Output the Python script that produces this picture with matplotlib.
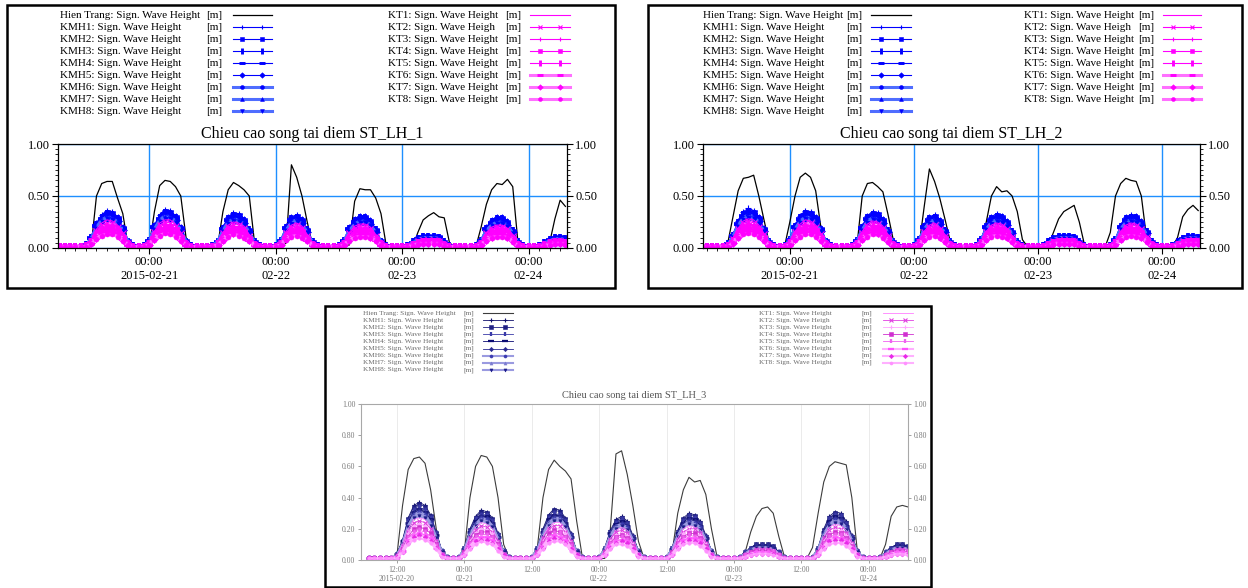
import matplotlib

matplotlib.use("Agg")
import matplotlib.pyplot as plt
import matplotlib.dates as mdates
from matplotlib.patches import Rectangle
from matplotlib.ticker import FormatStrFormatter, MultipleLocator
import numpy as np
import pandas as pd

plt.rcParams["font.family"] = ["Liberation Serif", "DejaVu Serif"]

W, H = 1248, 588

# hourly model output, 2015-02-20 07:00 .. 2015-02-24 07:00, wave height in cm
TIMES = pd.date_range("2015-02-20 07:00", periods=97, freq="h")

P1_HT_CM = [1,1,1,1,1,1, 2,50,62,64,64,48,33,2, 1,1,1,1, 35,60,65,64,59,50,10,1, 1,1,1,1, 2,35,56,63,60,56,50,5, 1,1,1,1,1, 5,80,68,50,25,3, 1,1,1,1,1,1, 3,45,57,56,56,48,33,2, 1,1,1,1,1, 15,27,31,34,30,29,5, 1,1,1,1,1, 20,42,56,62,61,66,59,5, 1,1,1,1,1, 5,28,46,40]

P1_KMH_CM = [
    [1,1,1,1, 1,3,11,24,32,36,35,30,20,7,2, 1, 2,8,22,32,37,36,31,20,7,2, 1,1,1, 2,7,20,30,34,33,28,18,6,2, 1,1, 2,8,21,30,32,28,18,6,2, 1,1,1, 2,8,20,28,31,31,27,18,7,2, 1,1,1, 2,6,10,12,12,12,11,6,2, 1,1,1,1, 2,8,20,27,30,30,26,17,6,2, 1,1, 2,5,9,11,11,10],
    [1,1,1,1, 1,3,11,23,31,35,34,29,19,7,2, 1, 2,8,21,31,36,35,30,19,7,2, 1,1,1, 2,7,19,29,33,32,27,17,6,2, 1,1, 2,8,20,29,31,27,17,6,2, 1,1,1, 2,8,19,27,30,30,26,17,7,2, 1,1,1, 2,6,10,12,12,12,11,6,2, 1,1,1,1, 2,8,19,26,29,29,25,16,6,2, 1,1, 2,5,9,11,11,10],
    [1,1,1,1, 1,3,10,22,29,33,32,28,18,6,2, 1, 2,7,20,29,34,33,29,18,6,2, 1,1,1, 2,6,18,28,31,30,26,17,6,2, 1,1, 2,7,19,28,29,26,17,6,2, 1,1,1, 2,7,18,26,29,29,25,17,6,2, 1,1,1, 2,6,9,11,11,11,10,6,2, 1,1,1,1, 2,7,18,25,28,28,24,16,6,2, 1,1, 2,5,8,10,10,9],
    [1,1,1,1, 1,3,10,21,28,32,31,27,18,6,2, 1, 2,7,20,28,33,32,28,18,6,2, 1,1,1, 2,6,18,27,30,29,25,16,5,2, 1,1, 2,7,19,27,28,25,16,5,2, 1,1,1, 2,7,18,25,28,28,24,16,6,2, 1,1,1, 2,5,9,11,11,11,10,5,2, 1,1,1,1, 2,7,18,24,27,27,23,15,5,2, 1,1, 2,4,8,10,10,9],
    [1,1,1,1, 1,3,9,21,28,31,30,26,17,6,2, 1, 2,7,19,28,32,31,27,17,6,2, 1,1,1, 2,6,17,26,29,28,24,15,5,2, 1,1, 2,7,18,26,28,24,15,5,2, 1,1,1, 2,7,17,24,27,27,23,15,6,2, 1,1,1, 2,5,9,10,10,10,9,5,2, 1,1,1,1, 2,7,17,23,26,26,22,15,5,2, 1,1, 2,4,8,9,9,9],
    [1,1,1,1, 1,2,9,20,27,30,29,25,17,6,2, 1, 2,7,18,27,31,30,26,17,6,2, 1,1,1, 2,6,17,25,28,27,23,15,5,2, 1,1, 2,7,17,25,27,23,15,5,2, 1,1,1, 2,7,17,23,26,26,22,15,6,2, 1,1,1, 2,5,8,10,10,10,9,5,2, 1,1,1,1, 2,7,17,22,25,25,22,14,5,2, 1,1, 2,4,7,9,9,8],
    [1,1,1,1, 1,2,9,19,26,29,28,24,16,6,2, 1, 2,6,18,26,30,29,25,16,6,2, 1,1,1, 2,6,16,24,27,26,22,14,5,2, 1,1, 2,6,17,24,26,22,14,5,2, 1,1,1, 2,6,16,22,25,25,22,14,6,2, 1,1,1, 2,5,8,10,10,10,9,5,2, 1,1,1,1, 2,6,16,22,24,24,21,14,5,2, 1,1, 2,4,7,9,9,8],
    [1,1,1,1, 1,2,8,18,25,28,27,23,15,5,2, 1, 2,6,17,25,28,28,24,15,5,2, 1,1,1, 2,5,15,23,26,25,22,14,5,2, 1,1, 2,6,16,23,25,22,14,5,2, 1,1,1, 2,6,15,22,24,24,21,14,5,2, 1,1,1, 2,5,8,9,9,9,8,5,2, 1,1,1,1, 2,6,15,21,23,23,20,13,5,2, 1,1, 2,4,7,8,8,8],
]

P1_KT_CM = [
    [1,1,1,1, 1,2,8,18,24,27,26,22,15,5,1, 1, 1,6,16,24,27,27,23,15,5,1, 1,1,1, 1,5,15,22,25,24,21,13,4,1, 1,1, 1,6,16,22,24,21,13,4,1, 1,1,1, 1,6,15,21,23,23,20,13,5,1, 1,1,1, 1,4,7,9,9,9,8,4,1, 1,1,1,1, 1,6,15,20,22,22,19,13,4,1, 1,1, 1,4,7,8,8,7],
    [1,1,1,1, 1,2,7,16,22,24,24,20,14,5,1, 1, 1,5,15,22,25,24,21,14,5,1, 1,1,1, 1,5,14,20,23,22,19,12,4,1, 1,1, 1,5,14,20,22,19,12,4,1, 1,1,1, 1,5,14,19,21,21,18,12,5,1, 1,1,1, 1,4,7,8,8,8,7,4,1, 1,1,1,1, 1,5,14,18,20,20,18,12,4,1, 1,1, 1,3,6,7,7,7],
    [1,1,1,1, 1,2,7,15,20,22,22,19,12,4,1, 1, 1,5,14,20,23,22,19,12,4,1, 1,1,1, 1,4,12,19,21,20,17,11,4,1, 1,1, 1,5,13,19,20,17,11,4,1, 1,1,1, 1,5,12,17,19,19,17,11,4,1, 1,1,1, 1,4,6,7,7,7,7,4,1, 1,1,1,1, 1,5,12,17,19,19,16,11,4,1, 1,1, 1,3,6,7,7,6],
    [1,1,1,1, 1,2,6,14,18,21,20,17,11,4,1, 1, 1,5,13,18,21,21,18,11,4,1, 1,1,1, 1,4,11,17,19,19,16,10,3,1, 1,1, 1,5,12,17,18,16,10,3,1, 1,1,1, 1,5,11,16,18,18,15,10,4,1, 1,1,1, 1,3,6,7,7,7,6,3,1, 1,1,1,1, 1,5,11,15,17,17,15,10,3,1, 1,1, 1,3,5,6,6,6],
    [1,1,1,1, 1,2,6,12,17,19,18,16,10,4,1, 1, 1,4,11,17,19,19,16,10,4,1, 1,1,1, 1,4,10,16,18,17,15,9,3,1, 1,1, 1,4,11,16,17,15,9,3,1, 1,1,1, 1,4,10,15,16,16,14,9,4,1, 1,1,1, 1,3,5,6,6,6,6,3,1, 1,1,1,1, 1,4,10,14,16,16,14,9,3,1, 1,1, 1,3,5,6,6,5],
    [1,1,1,1, 1,1,5,11,15,17,16,14,9,3,1, 1, 1,4,10,15,17,17,15,9,3,1, 1,1,1, 1,3,9,14,16,16,13,8,3,1, 1,1, 1,4,10,14,15,13,8,3,1, 1,1,1, 1,4,9,13,15,15,13,8,3,1, 1,1,1, 1,3,5,6,6,6,5,3,1, 1,1,1,1, 1,4,9,13,14,14,12,8,3,1, 1,1, 1,2,4,5,5,5],
    [1,1,1,1, 1,1,5,10,13,15,15,13,8,3,1, 1, 1,3,9,13,16,15,13,8,3,1, 1,1,1, 1,3,8,13,14,14,12,8,3,1, 1,1, 1,3,9,13,13,12,8,3,1, 1,1,1, 1,3,8,12,13,13,11,8,3,1, 1,1,1, 1,3,4,5,5,5,5,3,1, 1,1,1,1, 1,3,8,11,13,13,11,7,3,1, 1,1, 1,2,4,5,5,4],
    [1,1,1,1, 1,1,4,9,12,13,13,11,7,3,1, 1, 1,3,8,12,14,13,11,7,3,1, 1,1,1, 1,3,7,11,13,12,10,7,2,1, 1,1, 1,3,8,11,12,10,7,2,1, 1,1,1, 1,3,7,10,11,11,10,7,3,1, 1,1,1, 1,2,4,4,4,4,4,2,1, 1,1,1,1, 1,3,7,10,11,11,10,6,2,1, 1,1, 1,2,3,4,4,4],
]

P2_HT_CM = [1,1,1,1,1, 5,30,55,67,68,70,50,27,5, 1,1, 2,25,50,68,72,68,55,20,2, 1,1,1,1,1, 3,50,62,63,59,54,32,8, 1,1,1,1, 2,40,76,64,48,28,7, 1,1,1,1,1, 2,25,50,59,54,55,50,35,8, 1,1,1,1, 2,15,28,35,38,41,25,3, 1,1,1,1, 15,50,62,67,65,64,50,10, 1,1,1,1,1, 10,30,37,41,36]

P2_KMH_CM = [
    [1,1,1,1, 1,4,13,26,35,38,36,30,19,6,2, 1, 2,9,22,31,36,35,30,19,7,2, 1,1,1, 2,8,21,31,35,34,28,17,6,2, 1,1, 2,9,22,30,32,27,17,6,2, 1,1,1, 2,9,22,30,33,31,26,16,6,2, 1,1,1, 2,6,10,12,12,12,11,6,2, 1,1,1,1, 2,9,22,30,32,31,26,16,6,2, 1,1, 2,6,10,12,12,11],
    [1,1,1,1, 1,4,12,25,34,36,35,29,18,6,2, 1, 2,9,21,30,35,34,29,18,7,2, 1,1,1, 2,8,20,30,34,33,27,16,6,2, 1,1, 2,9,21,29,31,26,16,6,2, 1,1,1, 2,9,21,29,32,30,25,15,6,2, 1,1,1, 2,6,10,12,12,12,11,6,2, 1,1,1,1, 2,9,21,29,31,30,25,15,6,2, 1,1, 2,6,10,12,12,11],
    [1,1,1,1, 1,4,12,24,32,35,33,28,17,6,2, 1, 2,8,20,29,33,32,28,17,6,2, 1,1,1, 2,7,19,29,32,31,26,16,6,2, 1,1, 2,8,20,28,29,25,16,6,2, 1,1,1, 2,8,20,28,30,29,24,15,6,2, 1,1,1, 2,6,9,11,11,11,10,6,2, 1,1,1,1, 2,8,20,28,29,29,24,15,6,2, 1,1, 2,6,9,11,11,10],
    [1,1,1,1, 1,4,12,23,31,34,32,27,17,5,2, 1, 2,8,20,28,32,31,27,17,6,2, 1,1,1, 2,7,19,28,31,30,25,15,5,2, 1,1, 2,8,20,27,28,24,15,5,2, 1,1,1, 2,8,20,27,29,28,23,14,5,2, 1,1,1, 2,5,9,11,11,11,10,5,2, 1,1,1,1, 2,8,20,27,28,28,23,14,5,2, 1,1, 2,5,9,11,11,10],
    [1,1,1,1, 1,3,11,22,30,33,31,26,16,5,2, 1, 2,8,19,27,31,30,26,16,6,2, 1,1,1, 2,7,18,27,30,29,24,15,5,2, 1,1, 2,8,19,26,28,23,15,5,2, 1,1,1, 2,8,19,26,28,27,22,14,5,2, 1,1,1, 2,5,9,10,10,10,9,5,2, 1,1,1,1, 2,8,19,26,28,27,22,14,5,2, 1,1, 2,5,9,10,10,9],
    [1,1,1,1, 1,3,11,22,29,32,30,25,16,5,2, 1, 2,7,18,26,30,29,25,16,6,2, 1,1,1, 2,7,17,26,29,28,23,14,5,2, 1,1, 2,7,18,25,27,22,14,5,2, 1,1,1, 2,7,18,25,27,26,22,13,5,2, 1,1,1, 2,5,8,10,10,10,9,5,2, 1,1,1,1, 2,7,18,25,27,26,22,13,5,2, 1,1, 2,5,8,10,10,9],
    [1,1,1,1, 1,3,10,21,28,30,29,24,15,5,2, 1, 2,7,18,25,29,28,24,15,6,2, 1,1,1, 2,6,17,25,28,27,22,14,5,2, 1,1, 2,7,18,24,26,22,14,5,2, 1,1,1, 2,7,18,24,26,25,21,13,5,2, 1,1,1, 2,5,8,10,10,10,9,5,2, 1,1,1,1, 2,7,18,24,26,25,21,13,5,2, 1,1, 2,5,8,10,10,9],
    [1,1,1,1, 1,3,10,20,27,29,28,23,15,5,2, 1, 2,7,17,24,28,27,23,15,5,2, 1,1,1, 2,6,16,24,27,26,22,13,5,2, 1,1, 2,7,17,23,25,21,13,5,2, 1,1,1, 2,7,17,23,25,24,20,12,5,2, 1,1,1, 2,5,8,9,9,9,8,5,2, 1,1,1,1, 2,7,17,23,25,24,20,12,5,2, 1,1, 2,5,8,9,9,8],
]

P2_KT_CM = [
    [1,1,1,1, 1,3,10,19,26,28,27,22,14,4,1, 1, 1,7,16,23,27,26,22,14,5,1, 1,1,1, 1,6,16,23,26,25,21,13,4,1, 1,1, 1,7,16,22,24,20,13,4,1, 1,1,1, 1,7,16,22,24,23,19,12,4,1, 1,1,1, 1,4,7,9,9,9,8,4,1, 1,1,1,1, 1,7,16,22,24,23,19,12,4,1, 1,1, 1,4,7,9,9,8],
    [1,1,1,1, 1,3,9,18,24,26,24,20,13,4,1, 1, 1,6,15,21,24,24,20,13,5,1, 1,1,1, 1,5,14,21,24,23,19,12,4,1, 1,1, 1,6,15,20,22,18,12,4,1, 1,1,1, 1,6,15,20,22,21,18,11,4,1, 1,1,1, 1,4,7,8,8,8,7,4,1, 1,1,1,1, 1,6,15,20,22,21,18,11,4,1, 1,1, 1,4,7,8,8,7],
    [1,1,1,1, 1,2,8,16,22,24,22,19,12,4,1, 1, 1,6,14,19,22,22,19,12,4,1, 1,1,1, 1,5,13,19,22,21,17,11,4,1, 1,1, 1,6,14,19,20,17,11,4,1, 1,1,1, 1,6,14,19,20,19,16,10,4,1, 1,1,1, 1,4,6,7,7,7,7,4,1, 1,1,1,1, 1,6,14,19,20,19,16,10,4,1, 1,1, 1,4,6,7,7,7],
    [1,1,1,1, 1,2,7,15,20,22,21,17,11,3,1, 1, 1,5,13,18,21,20,17,11,4,1, 1,1,1, 1,5,12,18,20,19,16,10,3,1, 1,1, 1,5,13,17,18,15,10,3,1, 1,1,1, 1,5,13,17,19,18,15,9,3,1, 1,1,1, 1,3,6,7,7,7,6,3,1, 1,1,1,1, 1,5,13,17,18,18,15,9,3,1, 1,1, 1,3,6,7,7,6],
    [1,1,1,1, 1,2,7,14,18,20,19,16,10,3,1, 1, 1,5,11,16,19,18,16,10,4,1, 1,1,1, 1,4,11,16,18,18,15,9,3,1, 1,1, 1,5,11,16,17,14,9,3,1, 1,1,1, 1,5,11,16,17,16,14,8,3,1, 1,1,1, 1,3,5,6,6,6,6,3,1, 1,1,1,1, 1,5,11,16,17,16,14,8,3,1, 1,1, 1,3,5,6,6,6],
    [1,1,1,1, 1,2,6,12,16,18,17,14,9,3,1, 1, 1,4,10,15,17,16,14,9,3,1, 1,1,1, 1,4,10,15,16,16,13,8,3,1, 1,1, 1,4,10,14,15,13,8,3,1, 1,1,1, 1,4,10,14,16,15,12,8,3,1, 1,1,1, 1,3,5,6,6,6,5,3,1, 1,1,1,1, 1,4,10,14,15,15,12,8,3,1, 1,1, 1,3,5,6,6,5],
    [1,1,1,1, 1,2,5,11,15,16,15,13,8,3,1, 1, 1,4,9,13,15,15,13,8,3,1, 1,1,1, 1,3,9,13,15,14,12,7,3,1, 1,1, 1,4,9,13,13,11,7,3,1, 1,1,1, 1,4,9,13,14,13,11,7,3,1, 1,1,1, 1,3,4,5,5,5,5,3,1, 1,1,1,1, 1,4,9,13,13,13,11,7,3,1, 1,1, 1,3,4,5,5,5],
    [1,1,1,1, 1,1,5,10,13,14,13,11,7,2,1, 1, 1,3,8,11,13,13,11,7,3,1, 1,1,1, 1,3,8,11,13,13,10,6,2,1, 1,1, 1,3,8,11,12,10,6,2,1, 1,1,1, 1,3,8,11,12,11,10,6,2,1, 1,1,1, 1,2,4,4,4,4,4,2,1, 1,1,1,1, 1,3,8,11,12,11,10,6,2,1, 1,1, 1,2,4,4,4,4],
]

P3_HT_CM = [1,1,1,1,1, 3,35,58,65,66,62,45,20,2, 1,1,1, 5,40,60,67,66,60,40,10,1, 1,1,1,1, 8,40,58,64,60,57,52,25,2, 1,1,1,1, 20,68,70,55,35,12, 1,1,1,1,1, 5,30,45,53,50,51,42,20,2, 1,1,1,1, 5,18,28,33,34,30,15,2, 1,1,1,1, 8,30,50,60,63,62,61,40,5, 1,1,1,1, 10,28,34,35,34]

P3_KMH_CM = [
    [1,1,1,1, 1,4,13,27,35,37,35,29,18,6,2, 1, 2,8,20,28,32,31,27,17,6,2, 1,1,1, 2,8,20,29,33,32,27,17,6,2, 1,1, 2,8,19,26,28,25,16,6,2, 1,1,1, 2,8,19,27,30,29,25,16,6,2, 1,1,1, 2,5,8,10,10,10,9,5,2, 1,1,1,1, 2,8,20,28,31,30,25,16,6,2, 1,1, 2,5,8,10,10,9],
    [1,1,1,1, 1,4,12,26,34,36,34,28,17,6,2, 1, 2,8,19,27,31,30,26,16,6,2, 1,1,1, 2,8,19,28,32,31,26,16,6,2, 1,1, 2,8,18,25,27,24,15,6,2, 1,1,1, 2,8,18,26,29,28,24,15,6,2, 1,1,1, 2,5,8,10,10,10,9,5,2, 1,1,1,1, 2,8,19,27,30,29,24,15,6,2, 1,1, 2,5,8,10,10,9],
    [1,1,1,1, 1,4,12,25,32,34,32,27,17,6,2, 1, 2,7,18,26,29,29,25,16,6,2, 1,1,1, 2,7,18,27,30,29,25,16,6,2, 1,1, 2,7,17,24,26,23,15,6,2, 1,1,1, 2,7,17,25,28,27,23,15,6,2, 1,1,1, 2,5,7,9,9,9,8,5,2, 1,1,1,1, 2,7,18,26,29,28,23,15,6,2, 1,1, 2,5,7,9,9,8],
    [1,1,1,1, 1,4,12,24,31,33,31,26,16,5,2, 1, 2,7,18,25,28,28,24,15,5,2, 1,1,1, 2,7,18,26,29,28,24,15,5,2, 1,1, 2,7,17,23,25,22,14,5,2, 1,1,1, 2,7,17,24,27,26,22,14,5,2, 1,1,1, 2,4,7,9,9,9,8,4,2, 1,1,1,1, 2,7,18,25,28,27,22,14,5,2, 1,1, 2,4,7,9,9,8],
    [1,1,1,1, 1,3,11,23,30,32,30,25,15,5,2, 1, 2,7,17,24,28,27,23,15,5,2, 1,1,1, 2,7,17,25,28,28,23,15,5,2, 1,1, 2,7,16,22,24,22,14,5,2, 1,1,1, 2,7,16,23,26,25,22,14,5,2, 1,1,1, 2,4,7,9,9,9,8,4,2, 1,1,1,1, 2,7,17,24,27,26,22,14,5,2, 1,1, 2,4,7,9,9,8],
    [1,1,1,1, 1,3,11,22,29,31,29,24,15,5,2, 1, 2,7,17,23,27,26,22,14,5,2, 1,1,1, 2,7,17,24,27,27,22,14,5,2, 1,1, 2,7,16,22,23,21,13,5,2, 1,1,1, 2,7,16,22,25,24,21,13,5,2, 1,1,1, 2,4,7,8,8,8,7,4,2, 1,1,1,1, 2,7,17,23,26,25,21,13,5,2, 1,1, 2,4,7,8,8,7],
    [1,1,1,1, 1,3,10,22,28,30,28,23,14,5,2, 1, 2,6,16,22,26,25,22,14,5,2, 1,1,1, 2,6,16,23,26,26,22,14,5,2, 1,1, 2,6,15,21,22,20,13,5,2, 1,1,1, 2,6,15,22,24,23,20,13,5,2, 1,1,1, 2,4,6,8,8,8,7,4,2, 1,1,1,1, 2,6,16,22,25,24,20,13,5,2, 1,1, 2,4,6,8,8,7],
    [1,1,1,1, 1,3,10,21,27,28,27,22,14,5,2, 1, 2,6,15,22,25,24,21,13,5,2, 1,1,1, 2,6,15,22,25,25,21,13,5,2, 1,1, 2,6,15,20,22,19,12,5,2, 1,1,1, 2,6,15,21,23,22,19,12,5,2, 1,1,1, 2,4,6,8,8,8,7,4,2, 1,1,1,1, 2,6,15,22,24,23,19,12,5,2, 1,1, 2,4,6,8,8,7],
]

P3_KT_CM = [
    [1,1,1,1, 1,3,10,20,26,27,26,21,13,4,1, 1, 1,6,15,21,24,23,20,13,4,1, 1,1,1, 1,6,15,21,24,24,20,13,4,1, 1,1, 1,6,14,19,21,19,12,4,1, 1,1,1, 1,6,14,20,22,21,19,12,4,1, 1,1,1, 1,4,6,7,7,7,7,4,1, 1,1,1,1, 1,6,15,21,23,22,19,12,4,1, 1,1, 1,4,6,7,7,7],
    [1,1,1,1, 1,3,9,18,24,25,24,20,12,4,1, 1, 1,5,14,19,22,21,18,12,4,1, 1,1,1, 1,5,14,20,22,22,18,12,4,1, 1,1, 1,5,13,18,19,17,11,4,1, 1,1,1, 1,5,13,18,20,20,17,11,4,1, 1,1,1, 1,3,5,7,7,7,6,3,1, 1,1,1,1, 1,5,14,19,21,20,17,11,4,1, 1,1, 1,3,5,7,7,6],
    [1,1,1,1, 1,2,8,17,22,23,22,18,11,4,1, 1, 1,5,12,17,20,19,17,11,4,1, 1,1,1, 1,5,12,18,20,20,17,11,4,1, 1,1, 1,5,12,16,17,16,10,4,1, 1,1,1, 1,5,12,17,19,18,16,10,4,1, 1,1,1, 1,3,5,6,6,6,6,3,1, 1,1,1,1, 1,5,12,17,19,19,16,10,4,1, 1,1, 1,3,5,6,6,6],
    [1,1,1,1, 1,2,7,15,20,21,20,17,10,3,1, 1, 1,5,11,16,18,18,15,10,3,1, 1,1,1, 1,5,11,17,19,18,15,10,3,1, 1,1, 1,5,11,15,16,14,9,3,1, 1,1,1, 1,5,11,15,17,17,14,9,3,1, 1,1,1, 1,3,5,6,6,6,5,3,1, 1,1,1,1, 1,5,11,16,18,17,14,9,3,1, 1,1, 1,3,5,6,6,5],
    [1,1,1,1, 1,2,7,14,18,19,18,15,9,3,1, 1, 1,4,10,15,17,16,14,9,3,1, 1,1,1, 1,4,10,15,17,17,14,9,3,1, 1,1, 1,4,10,14,15,13,8,3,1, 1,1,1, 1,4,10,14,16,15,13,8,3,1, 1,1,1, 1,3,4,5,5,5,5,3,1, 1,1,1,1, 1,4,10,15,16,16,13,8,3,1, 1,1, 1,3,4,5,5,5],
    [1,1,1,1, 1,2,6,13,16,17,16,14,8,3,1, 1, 1,4,9,13,15,15,13,8,3,1, 1,1,1, 1,4,9,14,16,15,13,8,3,1, 1,1, 1,4,9,12,13,12,8,3,1, 1,1,1, 1,4,9,13,14,14,12,8,3,1, 1,1,1, 1,2,4,5,5,5,4,2,1, 1,1,1,1, 1,4,9,13,15,14,12,8,3,1, 1,1, 1,2,4,5,5,4],
    [1,1,1,1, 1,2,5,11,15,16,15,12,8,3,1, 1, 1,3,8,12,13,13,11,7,3,1, 1,1,1, 1,3,8,12,14,13,11,7,3,1, 1,1, 1,3,8,11,12,11,7,3,1, 1,1,1, 1,3,8,11,13,12,11,7,3,1, 1,1,1, 1,2,3,4,4,4,4,2,1, 1,1,1,1, 1,3,8,12,13,13,11,7,3,1, 1,1, 1,2,3,4,4,4],
    [1,1,1,1, 1,1,5,10,13,14,13,11,7,2,1, 1, 1,3,7,10,12,11,10,6,2,1, 1,1,1, 1,3,7,11,12,12,10,6,2,1, 1,1, 1,3,7,10,10,9,6,2,1, 1,1,1, 1,3,7,10,11,11,9,6,2,1, 1,1,1, 1,2,3,4,4,4,3,2,1, 1,1,1,1, 1,3,7,10,11,11,9,6,2,1, 1,1, 1,2,3,4,4,3],
]

TITLES = ["Chieu cao song tai diem ST_LH_1",
          "Chieu cao song tai diem ST_LH_2",
          "Chieu cao song tai diem ST_LH_3"]
HT_LABEL = "Hien Trang: Sign. Wave Height"
KMH_LABELS = ["KMH1: Sign. Wave Height", "KMH2: Sign. Wave Height",
              "KMH3: Sign. Wave Height", "KMH4: Sign. Wave Height",
              "KMH5: Sign. Wave Height", "KMH6: Sign. Wave Height",
              "KMH7: Sign. Wave Height", "KMH8: Sign. Wave Height"]
KT_LABELS = ["KT1: Sign. Wave Height", "KT2: Sign. Wave Heigh",
             "KT3: Sign. Wave Height", "KT4: Sign. Wave Height",
             "KT5: Sign. Wave Height", "KT6: Sign. Wave Height",
             "KT7: Sign. Wave Height", "KT8: Sign. Wave Height"]
UNIT = "[m]"

DAY_TICKS = ["2015-02-21 00:00", "2015-02-22 00:00", "2015-02-23 00:00", "2015-02-24 00:00"]
DAY_LABELS = ["00:00\n2015-02-21", "00:00\n02-22", "00:00\n02-23", "00:00\n02-24"]
HALF_TICKS = ["2015-02-20 12:00", "2015-02-21 00:00", "2015-02-21 12:00", "2015-02-22 00:00",
              "2015-02-22 12:00", "2015-02-23 00:00", "2015-02-23 12:00", "2015-02-24 00:00"]
HALF_LABELS = ["12:00\n2015-02-20", "00:00\n02-21", "12:00", "00:00\n02-22",
               "12:00", "00:00\n02-23", "12:00", "00:00\n02-24"]

for arr in [P1_HT_CM, P2_HT_CM, P3_HT_CM] + P1_KMH_CM + P1_KT_CM + P2_KMH_CM + P2_KT_CM + P3_KMH_CM + P3_KT_CM:
    assert len(arr) == len(TIMES), len(arr)

# marker per series, as in the original legend
KMH_MARK = ["+", "s", "|", "_", "D", "o", "^", "v"]
KT_MARK = ["", "x", "+", "s", "|", "_", "D", "o"]
THICK = [False, False, False, False, False, True, True, True]

CLEAN = {"ht": "black", "ht_lw": 0.9, "lw": 0.8, "thick_lw": 2.2, "ms": 3.6, "leg_ms": 2.8,
         "kmh": ["#0000ff"] * 8, "kmh_thick": "#4f6dff",
         "kt": ["#ff00ff"] * 8, "kt_thick": "#ff70ff"}
FADED = {"ht": "#3c3c3c", "ht_lw": 0.8, "lw": 0.6, "thick_lw": 1.5, "ms": 2.5, "leg_ms": 2.2,
         "kmh": ["#12126c", "#202084", "#3a3aa8", "#0b0b72", "#2a2a92", "#3b3bb0", "#7c7cd0", "#1c1c8a"],
         "kmh_thick": "#9a9ae0",
         "kt": ["#ff80ff", "#e040e0", "#ffa6ff", "#d030d0", "#f060f0", "#ff50ff", "#e828e8", "#ff90ff"],
         "kt_thick": "#ffb0ff"}


def fig_box(x0, y0, x1, y1):
    return [x0 / W, 1 - y1 / H, (x1 - x0) / W, (y1 - y0) / H]


def marker_style(marker, ms):
    if not marker:
        return {"marker": None}
    if marker == "|":
        return {"marker": "|", "markersize": ms * 1.5, "markeredgewidth": ms * 0.75}
    if marker == "_":
        return {"marker": "_", "markersize": ms * 1.7, "markeredgewidth": ms * 0.75}
    if marker in ("+", "x"):
        return {"marker": marker, "markersize": ms * 1.1, "markeredgewidth": 0.8}
    return {"marker": marker, "markersize": ms, "markeredgewidth": 0.4}


def draw_series(ax, x, y, marker, color, line_color, lw, ms, **kw):
    ax.plot(x, y, color=line_color, lw=lw, markerfacecolor=color,
            markeredgecolor=color, **marker_style(marker, ms), **kw)


def series_look(st, group, i):
    thick = THICK[i]
    color = st[group][i]
    return color, (st[group + "_thick"] if thick else color), (st["thick_lw"] if thick else st["lw"])


def draw_panel(ax, ht, kmh, kt, st):
    draw_series(ax, TIMES, np.array(ht) / 100, "", st["ht"], st["ht"], st["ht_lw"], st["ms"])
    for i, vals in enumerate(kmh):
        c, lc, lw = series_look(st, "kmh", i)
        draw_series(ax, TIMES, np.array(vals) / 100, KMH_MARK[i], c, lc, lw, st["ms"])
    for i, vals in enumerate(kt):
        c, lc, lw = series_look(st, "kt", i)
        draw_series(ax, TIMES, np.array(vals) / 100, KT_MARK[i], c, lc, lw, st["ms"])


def legend_entry(ax, col, y, label, marker, color, line_color, lw, ms, fs, tcolor):
    tx, ux, h0, m0, m1, h1 = col
    ax.text(tx, y, label, fontsize=fs, color=tcolor, ha="left", va="center")
    ax.text(ux, y, UNIT, fontsize=fs, color=tcolor, ha="left", va="center")
    draw_series(ax, [h0, m0, m1, h1], [y] * 4, marker, color, line_color, lw, ms,
                markevery=[1, 2])


def draw_legend(ax, st, left, right, y0, dy, fs, tcolor):
    ms = st["leg_ms"]
    legend_entry(ax, left, y0, HT_LABEL, "", st["ht"], st["ht"], st["ht_lw"], ms, fs, tcolor)
    for i in range(8):
        c, lc, lw = series_look(st, "kmh", i)
        legend_entry(ax, left, y0 + dy * (i + 1), KMH_LABELS[i], KMH_MARK[i], c, lc, lw,
                     ms, fs, tcolor)
        c, lc, lw = series_look(st, "kt", i)
        legend_entry(ax, right, y0 + dy * i, KT_LABELS[i], KT_MARK[i], c, lc, lw,
                     ms, fs, tcolor)


def setup_day_axes(ax, xlim):
    ax.set_xlim(*xlim)
    ax.set_ylim(0, 1)
    ax.set_xticks(mdates.date2num(pd.to_datetime(DAY_TICKS).to_pydatetime()), DAY_LABELS)
    ax.xaxis.set_minor_locator(mdates.HourLocator(byhour=range(0, 24, 2)))
    ax.set_yticks([0, 0.5, 1.0])
    ax.yaxis.set_major_formatter(FormatStrFormatter("%.2f"))
    ax.yaxis.set_minor_locator(MultipleLocator(0.05))
    ax.tick_params(which="both", direction="out", labelsize=9, colors="black", pad=2)
    ax.tick_params(axis="y", which="both", left=True, right=True, labelleft=True, labelright=True)
    ax.tick_params(which="major", length=4, width=0.8)
    ax.tick_params(which="minor", length=2.5, width=0.6)
    ax.grid(True, which="major", color="#1e8fff", lw=1.0)
    ax.set_axisbelow(True)
    for s in ax.spines.values():
        s.set_linewidth(0.9)


def setup_half_axes(ax, xlim):
    ax.set_xlim(*xlim)
    ax.set_ylim(0, 1)
    ax.set_xticks(mdates.date2num(pd.to_datetime(HALF_TICKS).to_pydatetime()), HALF_LABELS)
    ax.set_yticks([0, 0.2, 0.4, 0.6, 0.8, 1.0])
    ax.yaxis.set_major_formatter(FormatStrFormatter("%.2f"))
    ax.tick_params(which="both", direction="out", labelsize=5.6, colors="#7a7a7a",
                   length=2, width=0.5, pad=2)
    ax.tick_params(axis="y", left=True, right=True, labelleft=True, labelright=True)
    ax.grid(True, axis="x", color="#e8e8e8", lw=0.6)
    ax.set_axisbelow(True)
    for s in ax.spines.values():
        s.set_color("#a8a8a8")
        s.set_linewidth(0.8)


fig = plt.figure(figsize=(W / 100, H / 100), dpi=100, facecolor="white")

ax1 = fig.add_axes(fig_box(58, 144, 567, 248))
draw_panel(ax1, P1_HT_CM, P1_KMH_CM, P1_KT_CM, CLEAN)
setup_day_axes(ax1, (TIMES[0] - pd.Timedelta(minutes=18), TIMES[-1] + pd.Timedelta(minutes=18)))

ax2 = fig.add_axes(fig_box(703, 144, 1200, 248))
draw_panel(ax2, P2_HT_CM, P2_KMH_CM, P2_KT_CM, CLEAN)
setup_day_axes(ax2, (TIMES[0] + pd.Timedelta(minutes=12), TIMES[-1] + pd.Timedelta(minutes=21)))

ax3 = fig.add_axes(fig_box(361, 404, 908, 560))
draw_panel(ax3, P3_HT_CM, P3_KMH_CM, P3_KT_CM, FADED)
setup_half_axes(ax3, (TIMES[0] - pd.Timedelta(minutes=84), TIMES[-1]))

# overlay in pixel coordinates: frames, titles and the hand-laid legends
ov = fig.add_axes([0, 0, 1, 1])
ov.set_xlim(0, W)
ov.set_ylim(H, 0)
ov.axis("off")
ov.patch.set_alpha(0)

for x, y, w, h in [(7, 5, 608, 283), (648, 5, 594, 283), (325, 306, 606, 281)]:
    ov.add_patch(Rectangle((x, y), w, h, fill=False, ec="black", lw=1.8))

ov.text(312, 134, TITLES[0], fontsize=11.5, ha="center", va="center")
ov.text(951, 134, TITLES[1], fontsize=11.5, ha="center", va="center")
ov.text(634, 396, TITLES[2], fontsize=7.5, ha="center", va="center", color="#555555")

draw_legend(ov, CLEAN, (60, 206, 233, 242, 262, 272), (388, 505, 530, 540, 560, 570),
            15, 12.05, 8, "black")
draw_legend(ov, CLEAN, (703, 846, 871, 881, 901, 911), (1024, 1138, 1163, 1173, 1192, 1201),
            15, 12.05, 8, "black")
draw_legend(ov, FADED, (363, 463, 483, 491, 505, 513), (759, 861, 883, 891, 905, 913),
            313, 7.1, 5.2, "#6a6a6a")

fig.savefig("out.png", dpi=100)
